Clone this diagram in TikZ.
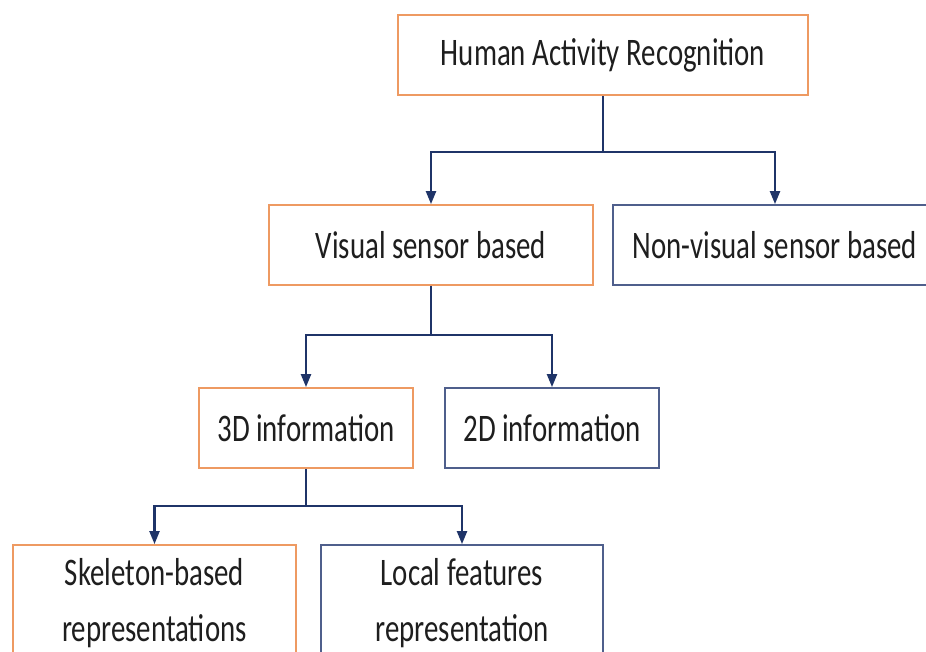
\documentclass[tikz,border=0pt]{standalone}
\usepackage{fontspec}
\setmainfont{Carlito}[FakeStretch=0.74]
\usetikzlibrary{arrows.meta}
\definecolor{boxorange}{HTML}{EE9A62}
\definecolor{boxblue}{HTML}{4F5F8C}
\definecolor{arrowblue}{HTML}{1F3468}
\definecolor{txt}{HTML}{1E1E1E}
\begin{document}
\begin{tikzpicture}[x=1pt,y=-1pt,
  box/.style={draw, line width=1.8pt, fill=white, text=txt, inner sep=0pt, align=center, font=\fontsize{39}{56}\selectfont},
  obox/.style={box, draw=boxorange},
  bbox/.style={box, draw=boxblue},
  conn/.style={draw=arrowblue, line width=2.2pt},
  arr/.style={conn, -{Triangle[length=13pt,width=10pt]}}]
\useasboundingbox (0,0) rectangle (926,652);
\node[obox, minimum width=410pt, minimum height=80pt] (har) at (603,55) {Human Activity Recognition};
\node[obox, minimum width=324pt, minimum height=80pt] (vis) at (431,245) {Visual sensor based};
\node[bbox, minimum width=324pt, minimum height=80pt] (nvis) at (775,245) {Non-visual sensor based};
\node[obox, minimum width=214pt, minimum height=80pt] (d3) at (306,428) {3D information};
\node[bbox, minimum width=214pt, minimum height=80pt] (d2) at (552,428) {2D information};
\node[obox, minimum width=283pt, minimum height=116pt] (skel) at (154.5,603) {Skeleton-based\\representations};
\node[bbox, minimum width=282pt, minimum height=116pt] (loc) at (462,603) {Local features\\representation};
\coordinate (j1) at (603,152);
\coordinate (j2) at (431,335);
\coordinate (j3) at (306,506);
\draw[conn] (har.south) -- (j1);
\draw[arr] (j1) -| (vis.north);
\draw[arr] (j1) -| (nvis.north);
\draw[conn] (vis.south) -- (j2);
\draw[arr] (j2) -| (d3.north);
\draw[arr] (j2) -| (d2.north);
\draw[conn] (d3.south) -- (j3);
\draw[arr] (j3) -| (skel.north);
\draw[arr] (j3) -| (loc.north);
\end{tikzpicture}
\end{document}
